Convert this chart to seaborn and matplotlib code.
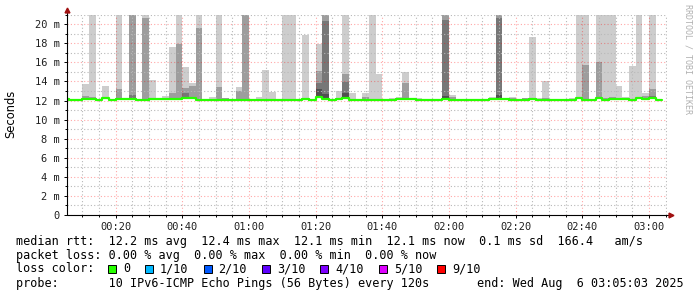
import numpy as np
import pandas as pd
import matplotlib
matplotlib.use("Agg")
import matplotlib.pyplot as plt
import seaborn as sns
from matplotlib.ticker import MultipleLocator, FuncFormatter
from matplotlib.patches import Rectangle

# ---------------- data (minutes after 00:00, 2-minute steps) ----------------
STEP = 2
step_start = list(range(4, 184, STEP))

median_ms = [12.2, 12.1, 12.1, 12.2, 12.2, 12.1, 12.3, 12.1, 12.2, 12.2,
             12.2, 12.1, 12.1, 12.2, 12.2, 12.2, 12.2, 12.2, 12.25, 12.25,
             12.1, 12.1, 12.1, 12.1, 12.1, 12.1, 12.1, 12.1, 12.1, 12.1,
             12.1, 12.1, 12.1, 12.1, 12.1, 12.1, 12.2, 12.1, 12.4, 12.2,
             12.1, 12.15, 12.3, 12.1, 12.1, 12.1, 12.1, 12.1, 12.1, 12.1,
             12.15, 12.2, 12.2, 12.1, 12.1, 12.1, 12.1, 12.2, 12.1, 12.1,
             12.1, 12.1, 12.1, 12.1, 12.2, 12.2, 12.2, 12.1, 12.1, 12.1,
             12.2, 12.1, 12.1, 12.1, 12.1, 12.1, 12.1, 12.3, 12.1, 12.1,
             12.3, 12.1, 12.15, 12.2, 12.2, 12.1, 12.25, 12.2, 12.3, 12.1]

smoke_light = [None, None, None, 13.7, 21, 12.2, 13.5, None, 21, 12.3,
               21, None, 21, 14.2, None, 12.45, 17.6, 21, 15.5, 13.85,
               21, None, 12.4, 21, 12.3, None, 13.4, 21, None, 12.4,
               15.2, 12.9, 12.2, 21, 21, None, 18.85, None, 17.95, 21,
               12.2, 13.0, 21, 12.8, None, 12.8, 21, 14.8, None, 12.3,
               12.4, 14.95, 12.3, 12.3, 12.2, 12.2, None, 21, 12.6, None,
               None, 12.2, None, 12.2, 12.4, 21, None, 12.4, 12.2, 12.3,
               18.65, 12.3, 14.0, 12.2, None, 12.2, 12.3, 21, 21, None,
               21, 21, 21, 13.5, 12.4, 15.6, 21, 12.8, 21, None]

smoke_mid = [None, None, None, 12.5, 12.4, None, None, None, 13.2, None,
             21, None, 20.7, None, None, None, 12.8, 17.95, 13.3, 13.5,
             19.6, None, None, 13.4, 12.3, None, 13.0, 21, None, None,
             None, None, None, None, None, None, None, None, 15.1, 21,
             None, None, 14.8, None, None, 12.4, None, None, None, None,
             None, 13.85, None, None, None, None, None, 21, 12.4, None,
             None, None, None, None, None, 21, None, 12.3, None, 12.3,
             None, None, 12.3, None, None, None, None, 12.3, 15.7, None,
             16.05, 12.3, 12.4, 12.3, None, None, 12.3, 12.5, 13.2, None]

smoke_dark = [None, None, None, None, None, None, None, None, None, None,
              12.6, None, None, None, None, None, None, None, 12.8, None,
              None, None, None, None, None, None, None, None, None, None,
              None, None, None, None, None, None, None, None, 13.85, 20.3,
              None, None, 13.9, None, None, None, None, None, None, None,
              None, None, None, None, None, None, None, 20.4, None, None,
              None, None, None, None, None, 20.7, None, None, None, None,
              None, None, None, None, None, None, None, None, None, None,
              12.4, None, None, None, None, None, None, None, 12.5, None]

smoke_darkest = [None, None, None, None, None, None, None, None, None, None,
                 None, None, None, None, None, None, None, None, None, None,
                 None, None, None, None, None, None, None, None, None, None,
                 None, None, None, None, None, None, None, None, 13.2, 12.7,
                 None, None, 12.8, None, None, None, None, None, None, None,
                 None, None, None, None, None, None, None, 12.5, None, None,
                 None, None, None, None, None, 12.6, None, None, None, None,
                 None, None, None, None, None, None, None, None, None, None,
                 None, None, None, None, None, None, None, None, None, None]

loss_labels = ["0", "1/10", "2/10", "3/10", "4/10", "5/10", "9/10"]
loss_colors = ["#26ff00", "#00b8ff", "#0059ff", "#5e00ff", "#7e00ff", "#dd00ff", "#ff0000"]

stats_line = "median rtt:  12.2 ms avg  12.4 ms max  12.1 ms min  12.1 ms now  0.1 ms sd  166.4   am/s"
loss_line = "packet loss: 0.00 % avg  0.00 % max  0.00 % min  0.00 % now"
probe_line = "probe:       10 IPv6-ICMP Echo Pings (56 Bytes) every 120s"
end_line = "end: Wed Aug  6 03:05:03 2025"

# ---------------- figure ----------------
sns.set_theme(style="white")
plt.rcParams["font.family"] = ["DejaVu Sans Mono", "DejaVu Sans"]

W, H = 697, 297
fig = plt.figure(figsize=(W / 100, H / 100), dpi=100)
fig.patch.set_facecolor("white")
ax_l, ax_r, ax_t, ax_b = 67, 667, 14.7, 215
ax = fig.add_axes([ax_l / W, 1 - ax_b / H, (ax_r - ax_l) / W, (ax_b - ax_t) / H])
ax.set_facecolor("white")

x = np.array(step_start, float)
med = np.array(median_ms, float)


def arr(v):
    return np.array([np.nan if e is None else e for e in v], float)


for vals, col in [(smoke_light, "#cdcdcd"), (smoke_mid, "#9d9d9d"),
                  (smoke_dark, "#777777"), (smoke_darkest, "#505050")]:
    v = arr(vals)
    m = ~np.isnan(v)
    ax.bar(x[m], v[m] - med[m], bottom=med[m], width=STEP, align="edge",
           color=col, linewidth=0, zorder=2)

df = pd.DataFrame({"t": np.append(x, x[-1] + STEP), "rtt": np.append(med, med[-1])})
sns.lineplot(data=df, x="t", y="rtt", drawstyle="steps-post", color="#26ff00",
             linewidth=1.6, ax=ax, zorder=5)

ax.set_xlim(5.4, 185.4)
ax.set_ylim(0, 21)
ax.set_xlabel("")
ax.set_ylabel("")

ax.xaxis.set_major_locator(MultipleLocator(20))
ax.xaxis.set_minor_locator(MultipleLocator(5))
ax.yaxis.set_major_locator(MultipleLocator(2))
ax.yaxis.set_minor_locator(MultipleLocator(1))
ax.xaxis.set_major_formatter(FuncFormatter(lambda v, p: f"{int(round(v)) // 60:02d}:{int(round(v)) % 60:02d}"))
ax.yaxis.set_major_formatter(FuncFormatter(lambda v, p: "0" if v == 0 else f"{int(round(v))} m"))

ax.set_axisbelow(False)
ax.grid(which="major", color="#ff0000", alpha=0.35, linestyle=(0, (1, 2)), linewidth=0.8)
ax.grid(which="minor", color="#b8b8b8", linestyle=(0, (1, 2)), linewidth=0.8)

ax.tick_params(axis="both", which="major", direction="out", length=2.5, width=0.7,
               colors="black", labelsize=7.5, pad=2.5)
ax.tick_params(axis="both", which="minor", direction="out", length=1.5, width=0.7, colors="black")
ax.tick_params(axis="both", which="both", bottom=True, left=True, top=False, right=False)
for lab in ax.get_xticklabels() + ax.get_yticklabels():
    lab.set_color("#202020")

for s in ["top", "right", "left", "bottom"]:
    ax.spines[s].set_visible(False)
# axis lines with arrow heads
ax.plot([0, 0], [0, 1.02], transform=ax.transAxes, color="black", lw=0.8, clip_on=False, zorder=6)
ax.plot([0, 1.005], [0, 0], transform=ax.transAxes, color="black", lw=0.8, clip_on=False, zorder=6)
ax.plot([0], [1.022], transform=ax.transAxes, marker="^", color="#a01010", markersize=3.5,
        clip_on=False, zorder=7)
ax.plot([1.007], [0], transform=ax.transAxes, marker=">", color="#a01010", markersize=3.5,
        clip_on=False, zorder=7)

# y label and watermark
fig.text(11 / W, 1 - 114 / H, "Seconds", rotation=90, ha="center", va="center",
         fontsize=8.3, color="black", family=["DejaVu Sans"])
fig.text(688 / W, 1 - 4 / H, "RRDTOOL / TOBI OETIKER", rotation=270, ha="center", va="top",
         fontsize=6, color="#b0b0b0")

# legend text
FS = 8.5
fig.text(16 / W, 1 - 241 / H, stats_line, ha="left", va="center", fontsize=FS, color="black")
fig.text(16 / W, 1 - 255 / H, loss_line, ha="left", va="center", fontsize=FS, color="black")
fig.text(16 / W, 1 - 269 / H, "loss color:", ha="left", va="center", fontsize=FS, color="black")
fig.text(16 / W, 1 - 283 / H, probe_line, ha="left", va="center", fontsize=FS, color="black")
fig.text(477 / W, 1 - 283 / H, end_line, ha="left", va="center", fontsize=FS, color="black")

cw = 7.1
xp = 108
for lab, col in zip(loss_labels, loss_colors):
    fig.patches.append(Rectangle((xp / W, 1 - 273 / H), 8 / W, 8 / H, transform=fig.transFigure,
                                 facecolor=col, edgecolor="black", linewidth=0.7))
    fig.text((xp + 15) / W, 1 - 269 / H, lab, ha="left", va="center", fontsize=FS, color="black")
    xp = xp + 15 + len(lab) * cw + 15

fig.savefig("out.png", dpi=100, facecolor="white")
